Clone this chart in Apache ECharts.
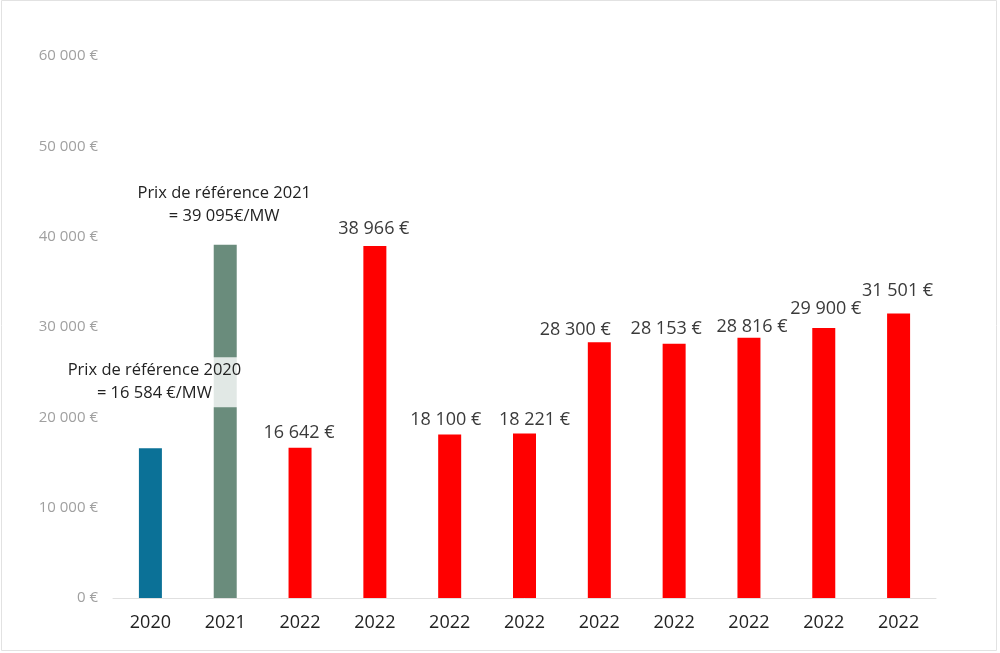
<!DOCTYPE html>
<html>
<head>
<meta charset="utf-8">
<script src="https://cdn.jsdelivr.net/npm/echarts@6/dist/echarts.min.js"></script>
<style>html,body{margin:0;padding:0;background:#fff;}#c{width:1000px;height:653px;}</style>
</head>
<body>
<div id="c"></div>
<script>
const categories = ['2020','2021','2022','2022','2022','2022','2022','2022','2022','2022','2022'];
const values = [16584, 39095, 16642, 38966, 18100, 18221, 28300, 28153, 28816, 29900, 31501];
const barColors = ['#0b7197','#6a8c7c','#ff0000','#ff0000','#ff0000','#ff0000','#ff0000','#ff0000','#ff0000','#ff0000','#ff0000'];
const annotations = {0: 'Prix de référence 2020\n= 16 584 €/MW', 1: 'Prix de référence 2021\n= 39 095€/MW'};
const yTicks = {min: 0, max: 60000, interval: 10000};
// hand placement of the value labels, as in the original (pixels)
const labelNudge = [[0,0],[0,0],[-1,0],[-1,-2],[-4,0],[10,1],[-24,3],[-8,0],[3,4],[2,-4],[-1,-8]];

const FONT = '"Open Sans", sans-serif';
function fmt(v){ return String(v).replace(/\B(?=(\d{3})+(?!\d))/g, ' ') + ' €'; }

const data = values.map((v, i) => {
  const item = { value: v, itemStyle: { color: barColors[i] } };
  if (i === 0) {
    item.label = { show: true, position: 'top', distance: 41, offset: [4, 0],
      formatter: annotations[0], fontSize: 16.5, lineHeight: 23, color: '#222',
      backgroundColor: 'rgba(255,255,255,0.8)', padding: [2, 4], fontFamily: FONT };
  } else if (i === 1) {
    item.label = { show: true, position: 'top', distance: 17, offset: [-1, 0],
      formatter: annotations[1], fontSize: 16.5, lineHeight: 23, color: '#222', fontFamily: FONT };
  } else {
    item.label = { offset: labelNudge[i] };
  }
  return item;
});

const chart = echarts.init(document.getElementById('c'));
chart.setOption({
  animation: false,
  backgroundColor: '#fff',
  graphic: [{ type: 'rect', shape: { x: 1.5, y: 0.5, width: 995, height: 650 },
    style: { fill: 'none', stroke: '#e2e2e2', lineWidth: 1 }, silent: true, z: -1 }],
  grid: { left: 113, right: 64, top: 56, bottom: 55 },
  xAxis: {
    type: 'category', data: categories,
    axisLine: { lineStyle: { color: '#e0e0e0', width: 1 } },
    axisTick: { show: false },
    axisLabel: { color: '#222', fontSize: 18, margin: 16, fontFamily: FONT }
  },
  yAxis: {
    type: 'value', min: yTicks.min, max: yTicks.max, interval: yTicks.interval,
    axisLine: { show: false }, axisTick: { show: false },
    splitLine: { show: false },
    axisLabel: { color: '#a0a0a0', fontSize: 15, margin: 15, fontFamily: FONT, formatter: fmt }
  },
  series: [{
    type: 'bar', data: data, barWidth: 23,
    label: { show: true, position: 'top', distance: 6, color: '#3a3a3a', fontSize: 18, fontFamily: FONT,
      formatter: p => fmt(p.value) }
  }]
});
</script>
</body>
</html>
